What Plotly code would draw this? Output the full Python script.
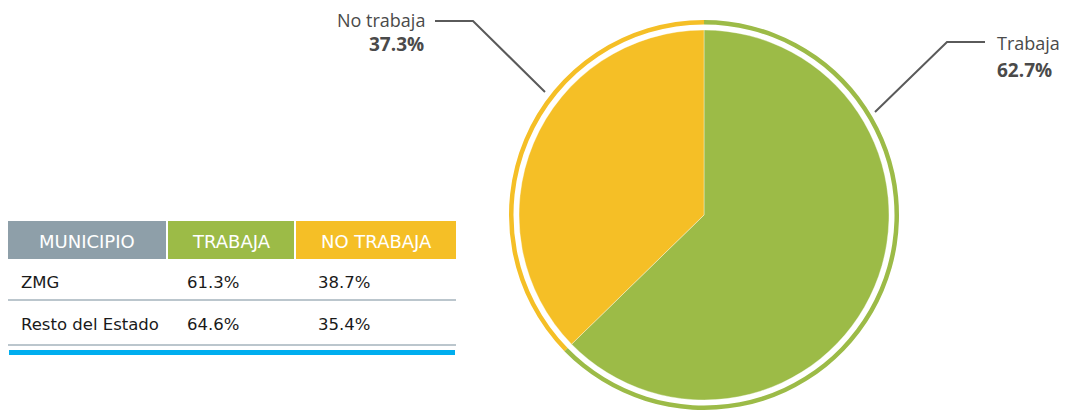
import plotly.graph_objects as go

# ---- data ----
pie_labels = ["Trabaja", "No trabaja"]
pie_values = [62.7, 37.3]
table_header = ["MUNICIPIO", "TRABAJA", "NO TRABAJA"]
table_municipios = ["ZMG", "Resto del Estado"]
table_trabaja = ["61.3%", "64.6%"]
table_no_trabaja = ["38.7%", "35.4%"]

# ---- styles ----
W, H = 1067, 411
OFF = 8  # page body margin
GREEN = "#9CBB47"
YELLOW = "#F5BF26"
GRAY_HDR = "#8E9FA9"
BLUE = "#00AEEF"
TXT = "#4A4A4A"
LINE = "#5A5A5A"
pie_colors = [GREEN, YELLOW]
header_colors = [GRAY_HDR, GREEN, YELLOW]


def px(x):
    return (x - OFF) / W


def py(y):
    return 1 - (y - OFF) / H


def domain(cx, cy, r):
    return dict(x=[px(cx - r), px(cx + r)], y=[py(cy + r), py(cy - r)])


CX, CY = 704, 215
R_OUT, R_IN = 195, 185

fig = go.Figure()
# outer ring
fig.add_trace(go.Pie(
    labels=pie_labels, values=pie_values, sort=False, direction="clockwise",
    rotation=0, hole=190.5 / R_OUT, domain=domain(CX, CY, R_OUT),
    marker=dict(colors=pie_colors, line=dict(width=0)),
    textinfo="none", hoverinfo="label+percent", showlegend=False,
))
# main pie
fig.add_trace(go.Pie(
    labels=pie_labels, values=pie_values, sort=False, direction="clockwise",
    rotation=0, domain=domain(CX, CY, R_IN),
    marker=dict(colors=pie_colors, line=dict(width=0.6, color="rgba(255,255,255,0.6)")),
    textinfo="none", hoverinfo="label+percent", showlegend=False,
))

shapes = []
annotations = []

# leader lines
shapes.append(dict(type="path", xref="paper", yref="paper",
                   path=f"M {px(435)} {py(21)} L {px(473)} {py(21)} L {px(545)} {py(92)}",
                   line=dict(color=LINE, width=2)))
shapes.append(dict(type="path", xref="paper", yref="paper",
                   path=f"M {px(985)} {py(42)} L {px(947)} {py(42)} L {px(875)} {py(112)}",
                   line=dict(color=LINE, width=2)))

lab_font = "Open Sans"
annotations.append(dict(x=px(426), y=py(19.5), xref="paper", yref="paper", xanchor="right", yanchor="middle",
                        text=pie_labels[1], showarrow=False, borderpad=0,
                        font=dict(family=lab_font, size=18, color=TXT)))
annotations.append(dict(x=px(426), y=py(44), xref="paper", yref="paper", xanchor="right", yanchor="middle",
                        text=f"<b>{pie_values[1]:.1f}%</b>", showarrow=False,
                        font=dict(family=lab_font, size=19, color=TXT)))
annotations.append(dict(x=px(995), y=py(43), xref="paper", yref="paper", xanchor="left", yanchor="middle",
                        text=pie_labels[0], showarrow=False, font=dict(family=lab_font, size=18, color=TXT)))
annotations.append(dict(x=px(995), y=py(70), xref="paper", yref="paper", xanchor="left", yanchor="middle",
                        text=f"<b>{pie_values[0]:.1f}%</b>", showarrow=False,
                        font=dict(family=lab_font, size=19, color=TXT)))

# table
col_x = [(8, 166), (168, 294), (296, 456)]
HDR_TOP, HDR_BOT = 221, 259
tbl_font = "DejaVu Sans"
for (x0, x1), name, col in zip(col_x, table_header, header_colors):
    shapes.append(dict(type="rect", xref="paper", yref="paper", x0=px(x0), x1=px(x1),
                       y0=py(HDR_BOT), y1=py(HDR_TOP), fillcolor=col, line=dict(width=0), layer="below"))
    annotations.append(dict(x=px((x0 + x1) / 2), y=py((HDR_TOP + HDR_BOT) / 2 + 1), xref="paper", yref="paper",
                            xanchor="center", yanchor="middle", text=name, showarrow=False,
                            font=dict(family=tbl_font, size=18, color="white")))

row_y = [282, 324]
sep_y = [300, 345]
text_x = [19, 185, 316]
for i, yc in enumerate(row_y):
    for xx, val in zip(text_x, [table_municipios[i], table_trabaja[i], table_no_trabaja[i]]):
        annotations.append(dict(x=px(xx), y=py(yc), xref="paper", yref="paper", xanchor="left",
                                yanchor="middle", text=val, showarrow=False,
                                font=dict(family=tbl_font, size=16.5, color="#1A1A1A")))
    shapes.append(dict(type="line", xref="paper", yref="paper", x0=px(8), x1=px(456),
                       y0=py(sep_y[i]), y1=py(sep_y[i]), line=dict(color="#A5B3BC", width=1.5)))

shapes.append(dict(type="rect", xref="paper", yref="paper", x0=px(9), x1=px(455),
                   y0=py(355), y1=py(350), fillcolor=BLUE, line=dict(width=0)))

fig.update_layout(
    width=W, height=H, margin=dict(l=0, r=0, t=0, b=0),
    paper_bgcolor="white", plot_bgcolor="white",
    shapes=shapes, annotations=annotations, showlegend=False,
)
fig.write_html("out.html")
